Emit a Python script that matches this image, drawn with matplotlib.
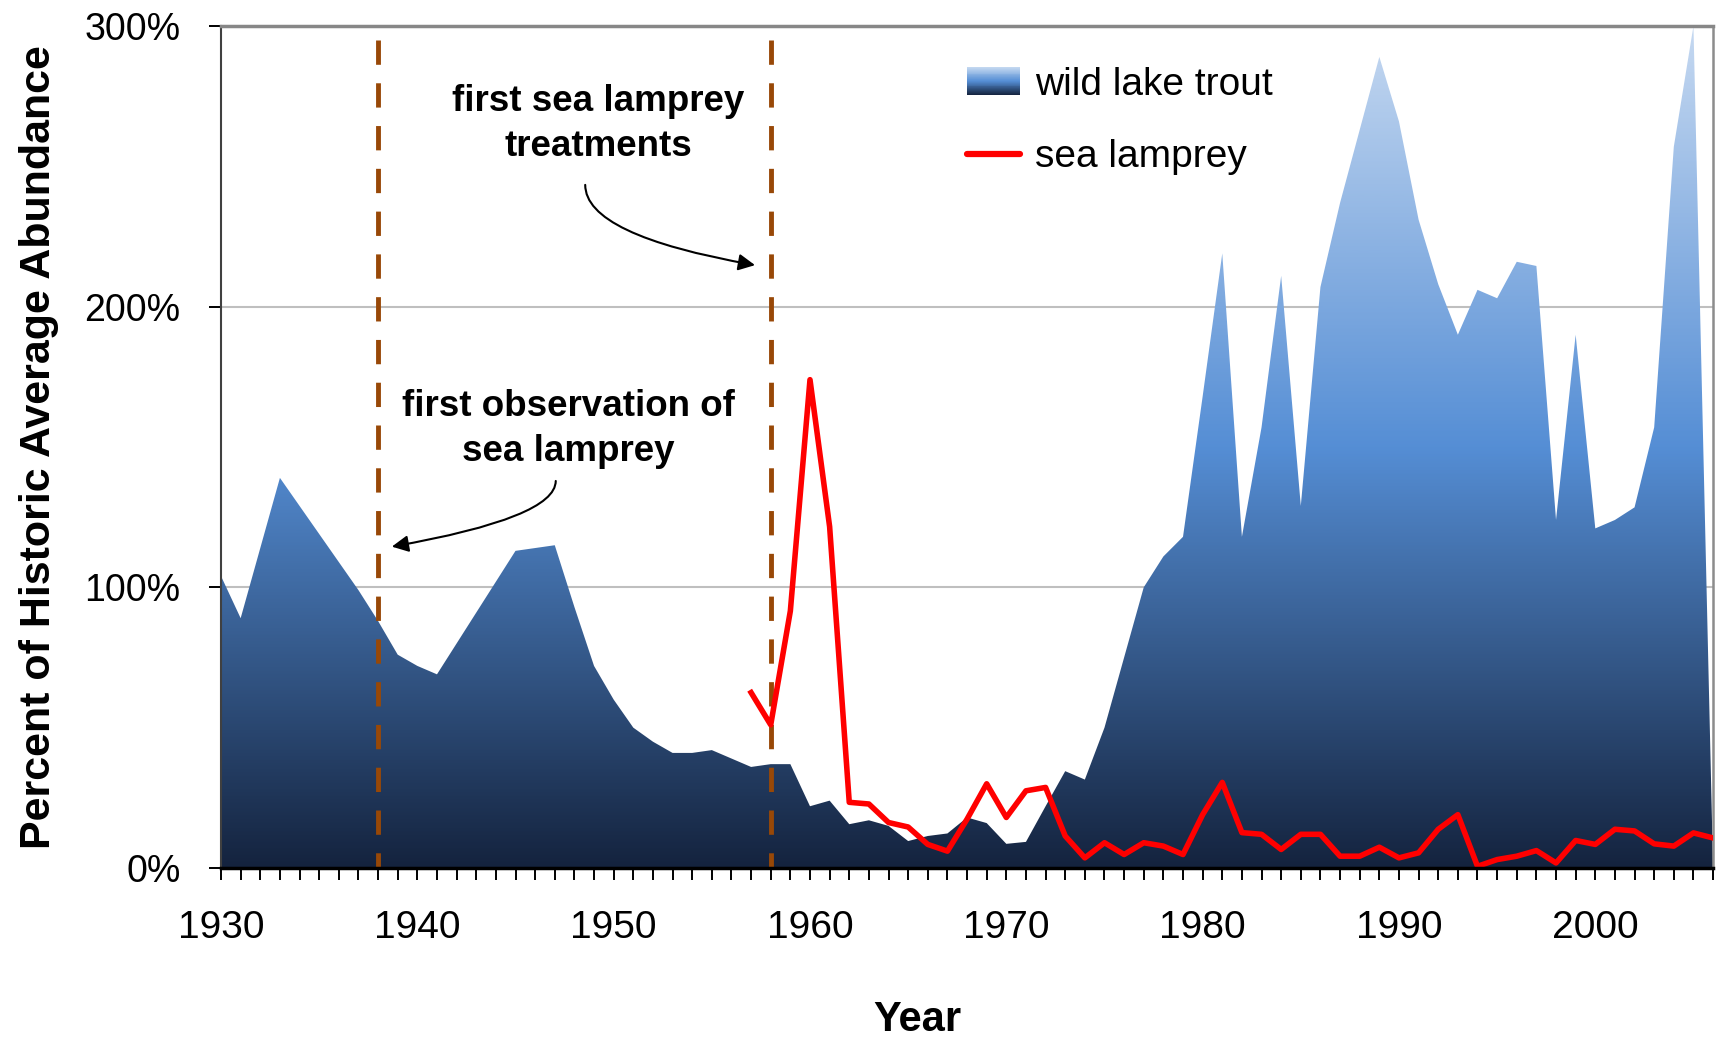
import numpy as np
import matplotlib
matplotlib.use("Agg")
import matplotlib.pyplot as plt
from matplotlib import font_manager
from matplotlib.colors import LinearSegmentedColormap
from matplotlib.patches import Polygon, Rectangle, Patch
from matplotlib.lines import Line2D
from matplotlib.legend_handler import HandlerBase
from matplotlib.ticker import MultipleLocator, FuncFormatter

# data (percent of historic average abundance)
years = np.arange(1930, 2007)
trout = [104, 89, 114, 139, 129, 119, 109, 99, 88, 76,
         72, 69, 80, 91, 102, 113, 114, 115, 93, 72,
         60, 50, 45, 41, 41, 42, 39, 36, 37, 37,
         22, 24, 15.6, 17, 15, 9.6, 11.4, 12.3, 18, 16,
         8.6, 9.3, 22, 34.5, 31.5, 50, 75, 100, 111, 118,
         168, 219, 118, 157, 211, 129, 207, 237, 263, 289,
         266, 231, 208, 190, 206, 203, 216, 214.5, 124, 190,
         121, 124, 128.5, 157, 257, 300, 0]
lamprey_years = np.arange(1957, 2007)
lamprey = [62.5, 51, 91.6, 174, 121.6, 23.4, 22.8, 16.2, 14.6, 8.4,
           6, 17.4, 30, 18, 27.5, 28.7, 11.4, 3.6, 9, 4.8,
           9, 7.8, 4.8, 19, 30.5, 12.6, 12, 6.6, 12, 12,
           4.2, 4.2, 7.4, 3.6, 5.4, 13.8, 19, 0.6, 3, 4.2,
           6.2, 1.8, 9.8, 8.4, 13.8, 13.2, 8.6, 7.8, 12.5, 10.7]
event_years = [1938, 1958]

names = {f.name for f in font_manager.fontManager.ttflist}
family = 'Liberation Sans Narrow' if 'Liberation Sans Narrow' in names else 'Liberation Sans'
plt.rcParams['font.family'] = [family, 'DejaVu Sans']

cmap = LinearSegmentedColormap.from_list(
    'trout', [(0, '#14233e'), (0.5, '#558ed5'), (1, '#c6d9f1')])


class GradientHandler(HandlerBase):
    def create_artists(self, legend, orig_handle, xdescent, ydescent,
                       width, height, fontsize, trans):
        n = 30
        out = []
        for i in range(n):
            r = Rectangle((-xdescent, -ydescent + i * height / n), width,
                          height / n * 1.05, facecolor=cmap((i + 0.5) / n),
                          edgecolor='none', lw=0, transform=trans)
            out.append(r)
        return out


fig = plt.figure(figsize=(17.16, 10.41), dpi=100)
ax = fig.add_axes([0.1288, 0.1662, 0.8695, 0.8088])

# gradient-filled area for trout
verts = np.column_stack([np.r_[years[0], years, years[-1]],
                         np.r_[0, trout, 0]])
area = Polygon(verts, closed=True, facecolor='none', edgecolor='none')
ax.add_patch(area)
grad = np.linspace(0, 1, 512).reshape(-1, 1)
im = ax.imshow(grad, extent=[1930, 2006, 0, 300], origin='lower',
               aspect='auto', cmap=cmap, zorder=2, interpolation='bilinear')
im.set_clip_path(area)

for yr in event_years:
    ax.plot([yr, yr], [295, 0], color='#984807', lw=3.5,
            linestyle=(0, (5, 3.8)), zorder=3, solid_capstyle='butt')

ax.plot(lamprey_years, lamprey, color='#ff0000', lw=4, zorder=4)

ax.set_xlim(1930, 2006)
ax.set_ylim(0, 300)
ax.xaxis.set_major_locator(MultipleLocator(10))
ax.xaxis.set_minor_locator(MultipleLocator(1))
ax.yaxis.set_major_locator(MultipleLocator(100))
ax.yaxis.set_major_formatter(FuncFormatter(lambda v, p: f'{v:.0f}%'))

ax.set_axisbelow(True)
ax.yaxis.grid(True, color='#bfbfbf', lw=1.5)
ax.tick_params(axis='x', which='both', direction='out', length=8.5,
               width=1.4, color='black', pad=22, labelsize=28)
ax.tick_params(axis='y', direction='out', length=9, width=1.4,
               color='black', pad=20, labelsize=27)

ax.spines['top'].set_color('#878787')
ax.spines['top'].set_linewidth(2.5)
ax.spines['top'].set_zorder(5)
ax.spines['right'].set_color('#8c8c8c')
ax.spines['right'].set_linewidth(1.8)
ax.spines['left'].set_color('#404040')
ax.spines['left'].set_linewidth(1.5)
ax.spines['bottom'].set_color('black')
ax.spines['bottom'].set_linewidth(2.5)
ax.spines['bottom'].set_zorder(5)

ax.set_ylabel('Percent of Historic Average Abundance', fontsize=31,
              fontweight='bold', va='center')
ax.yaxis.set_label_coords(-0.122, 0.5)
ax.set_xlabel('Year', fontsize=30, fontweight='bold', va='center')
ax.xaxis.set_label_coords(0.4665, -0.18)

ax.text(1949.2, 265, 'first sea lamprey\ntreatments', ha='center',
        va='center', fontsize=26.5, fontweight='bold', linespacing=1.38)
ax.text(1947.7, 156.5, 'first observation of\nsea lamprey', ha='center',
        va='center', fontsize=26.5, fontweight='bold', linespacing=1.38)

ax.annotate('', xy=(1957.2, 214.8), xytext=(1948.55, 243.4),
            arrowprops=dict(arrowstyle='-|>', color='black', lw=1.5,
                            mutation_scale=25, shrinkA=0, shrinkB=0,
                            connectionstyle='angle3,angleA=90,angleB=-10'))
ax.annotate('', xy=(1938.7, 114.5), xytext=(1947.05, 137.9),
            arrowprops=dict(arrowstyle='-|>', color='black', lw=1.5,
                            mutation_scale=25, shrinkA=0, shrinkB=0,
                            connectionstyle='angle3,angleA=90,angleB=10'))

trout_handle = Patch(label='wild lake trout')
lamprey_handle = Line2D([], [], color='#ff0000', lw=4.5,
                        solid_capstyle='round', label='sea lamprey')
ax.legend(handles=[trout_handle, lamprey_handle],
          handler_map={trout_handle: GradientHandler()},
          loc='upper left', bbox_to_anchor=(0.487, 0.975), frameon=False,
          fontsize=28, borderpad=0, labelspacing=0.95, handlelength=1.35,
          handleheight=0.72, handletextpad=0.4)

fig.savefig('out.png', dpi=100, facecolor='white')
